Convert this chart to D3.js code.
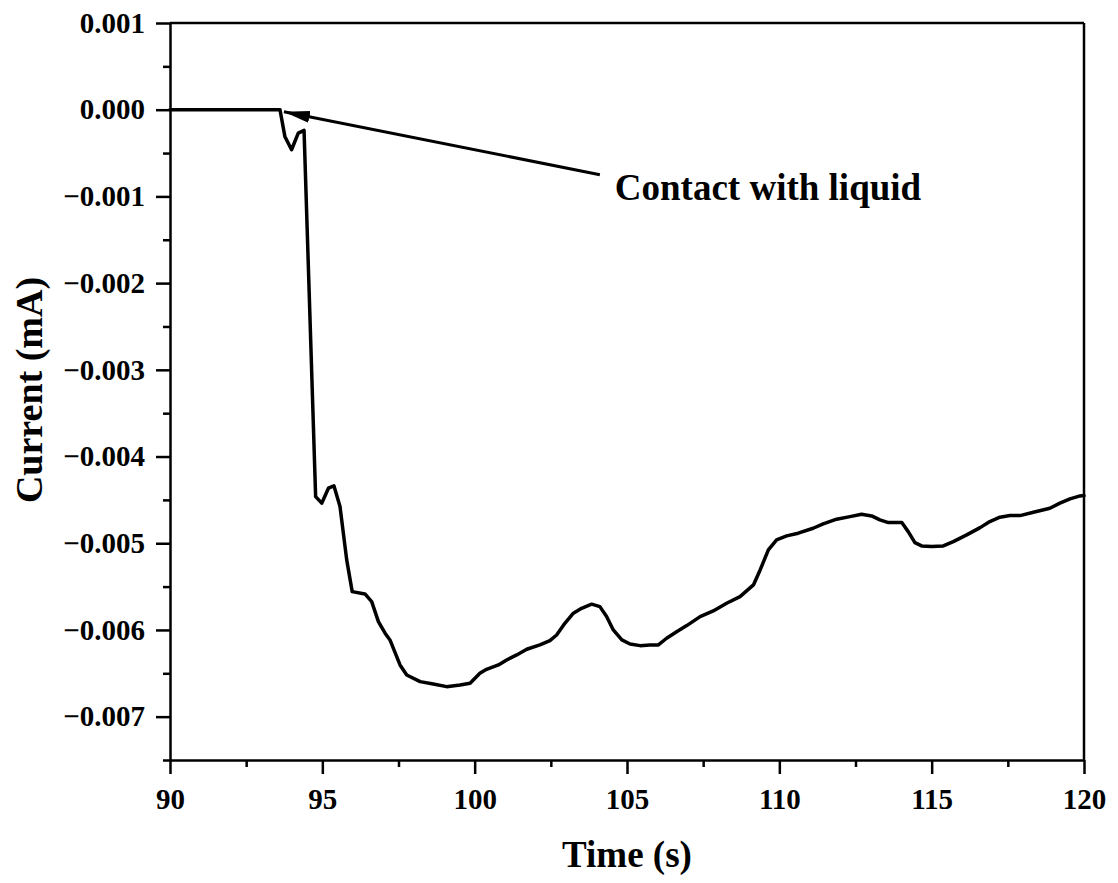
<!DOCTYPE html>
<html>
<head>
<meta charset="utf-8">
<script src="https://cdn.jsdelivr.net/npm/d3@7"></script>
<style>
  body { margin: 0; background: #fff; }
  text { font-family: "Liberation Serif", "Times New Roman", serif; font-weight: bold; }
</style>
</head>
<body>
<svg id="chart" width="1118" height="883"></svg>
<script>
// time (s) and current (mA)
var vTime = [90, 93.61, 93.77, 93.99, 94.21, 94.40, 94.78, 94.98, 95.20, 95.38, 95.58,
             95.80, 95.98, 96.40, 96.62, 96.84, 97.06, 97.22, 97.55, 97.77, 98.21,
             98.64, 99.08, 99.52, 99.85, 100.17, 100.39, 100.78, 101.05, 101.38, 101.71,
             102.14, 102.47, 102.69, 102.96, 103.24, 103.51, 103.84, 104.11, 104.33, 104.55,
             104.83, 105.10, 105.43, 105.75, 106.03, 106.30, 106.63, 106.96, 107.40, 107.83,
             108.27, 108.71, 109.15, 109.37, 109.64, 109.91, 110.24, 110.62, 111.11, 111.44,
             111.88, 112.32, 112.70, 113.03, 113.30, 113.58, 114.02, 114.23, 114.45, 114.67,
             115.00, 115.38, 115.71, 116.15, 116.59, 116.91, 117.24, 117.57, 117.90, 118.34,
             118.88, 119.21, 119.54, 119.87, 120];
var vCurrent = [0, 0, -0.000308, -0.000462, -0.000269, -0.000239, -0.004462, -0.004538, -0.004365, -0.004338, -0.004577,
             -0.005192, -0.005558, -0.005585, -0.005673, -0.005904, -0.006038, -0.006115, -0.006404, -0.006519, -0.006596,
             -0.006623, -0.006654, -0.006635, -0.006615, -0.006500, -0.006454, -0.006404, -0.006346, -0.006288, -0.006223,
             -0.006173, -0.006123, -0.006058, -0.005923, -0.005807, -0.005750, -0.005703, -0.005731, -0.005846, -0.006000,
             -0.006115, -0.006162, -0.006181, -0.006173, -0.006173, -0.006096, -0.006020, -0.005950, -0.005846, -0.005781,
             -0.005692, -0.005616, -0.005481, -0.005308, -0.005077, -0.004962, -0.004915, -0.004884, -0.004827, -0.004777,
             -0.004723, -0.004693, -0.004665, -0.004685, -0.004731, -0.004762, -0.004762, -0.004866, -0.004993, -0.005031,
             -0.005039, -0.005031, -0.004981, -0.004904, -0.004820, -0.004750, -0.004700, -0.004681, -0.004681, -0.004642,
             -0.004596, -0.004538, -0.004488, -0.004454, -0.004450];

var vXTicks = [90, 95, 100, 105, 110, 115, 120];
var vXMinor = [92.5, 97.5, 102.5, 107.5, 112.5, 117.5];
var vYTicks = [0.001, 0, -0.001, -0.002, -0.003, -0.004, -0.005, -0.006, -0.007];
var vYMinor = [0.0005, -0.0005, -0.0015, -0.0025, -0.0035, -0.0045, -0.0055, -0.0065, -0.0075];

// annotation: arrow tail -> tip, and label position (data units)
var vArrowFrom = [104.11, -0.00075];
var vArrowTo = [93.74, -0.000023];
var vLabelAt = [104.6, -0.00104];
var sLabel = "Contact with liquid";

var nW = 1118, nH = 883;
var margin = { top: 23, right: 34, bottom: 123, left: 170 };
var nPlotW = nW - margin.left - margin.right;
var nPlotH = nH - margin.top - margin.bottom;

var svg = d3.select("#chart");

svg.append("defs").append("marker")
    .attr("id", "arrowhead")
    .attr("viewBox", "0 0 26 12")
    .attr("refX", 26)
    .attr("refY", 6)
    .attr("markerWidth", 26)
    .attr("markerHeight", 12)
    .attr("markerUnits", "userSpaceOnUse")
    .attr("orient", "auto")
  .append("path")
    .attr("d", "M0,0 L26,6 L0,12 Z")
    .attr("fill", "#000");

var g = svg.append("g").attr("transform", "translate(" + margin.left + "," + margin.top + ")");

var x = d3.scaleLinear().domain([90, 120]).range([0, nPlotW]);
var y = d3.scaleLinear().domain([-0.0075, 0.001]).range([nPlotH, 0]);

var fmtY = d3.format(".3f");

// frame: top and right
g.append("line").attr("x1", 0).attr("x2", nPlotW).attr("y1", 0).attr("y2", 0)
    .attr("stroke", "#000").attr("stroke-width", 2.5);
g.append("line").attr("x1", nPlotW).attr("x2", nPlotW).attr("y1", 0).attr("y2", nPlotH)
    .attr("stroke", "#000").attr("stroke-width", 2.5);

// minor ticks
g.append("g").attr("transform", "translate(0," + nPlotH + ")")
    .call(d3.axisBottom(x).tickValues(vXMinor).tickSize(7).tickFormat(""))
    .call(function(s) { s.select(".domain").remove(); });
g.append("g")
    .call(d3.axisLeft(y).tickValues(vYMinor).tickSize(7).tickFormat(""))
    .call(function(s) { s.select(".domain").remove(); });

// major axes
var gx = g.append("g").attr("transform", "translate(0," + nPlotH + ")")
    .call(d3.axisBottom(x).tickValues(vXTicks).tickSize(14).tickSizeOuter(0).tickPadding(14));
var gy = g.append("g")
    .call(d3.axisLeft(y).tickValues(vYTicks).tickSize(14).tickSizeOuter(0).tickPadding(11).tickFormat(fmtY));

g.selectAll(".tick line").attr("stroke", "#000").attr("stroke-width", 2.5);
g.selectAll(".domain").attr("stroke", "#000").attr("stroke-width", 2.5);
g.selectAll(".tick text")
    .attr("fill", "#000")
    .style("font-family", "'Liberation Serif', 'Times New Roman', serif")
    .style("font-weight", "bold")
    .style("font-size", "29px");

// data line
var line = d3.line()
    .x(function(d, i) { return x(vTime[i]); })
    .y(function(d, i) { return y(vCurrent[i]); });

g.append("path")
    .datum(vCurrent)
    .attr("d", line)
    .attr("fill", "none")
    .attr("stroke", "#000")
    .attr("stroke-width", 3.5)
    .attr("stroke-linejoin", "round")
    .attr("stroke-linecap", "round");

// annotation
g.append("line")
    .attr("x1", x(vArrowFrom[0])).attr("y1", y(vArrowFrom[1]))
    .attr("x2", x(vArrowTo[0])).attr("y2", y(vArrowTo[1]))
    .attr("stroke", "#000")
    .attr("stroke-width", 3)
    .attr("marker-end", "url(#arrowhead)");

g.append("text")
    .attr("x", x(vLabelAt[0]))
    .attr("y", y(vLabelAt[1]))
    .attr("font-size", "37px")
    .attr("fill", "#000")
    .text(sLabel);

// axis titles
svg.append("text")
    .attr("x", margin.left + nPlotW / 2)
    .attr("y", 867)
    .attr("text-anchor", "middle")
    .attr("font-size", "37px")
    .attr("fill", "#000")
    .text("Time (s)");

svg.append("text")
    .attr("transform", "translate(42," + (margin.top + 367) + ") rotate(-90)")
    .attr("text-anchor", "middle")
    .attr("font-size", "38px")
    .attr("fill", "#000")
    .text("Current (mA)");
</script>
</body>
</html>
